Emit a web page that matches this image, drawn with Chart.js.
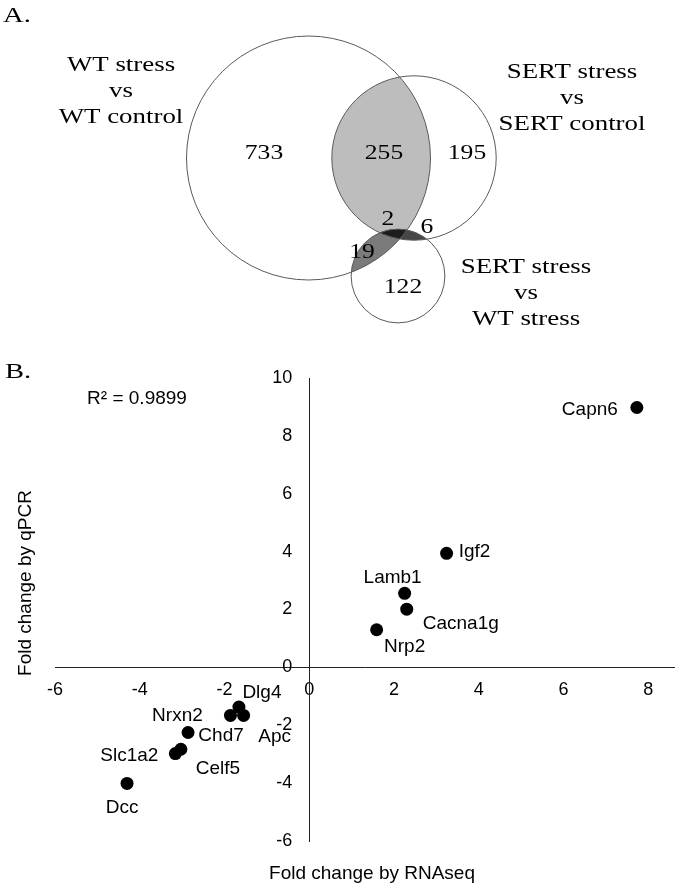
<!DOCTYPE html>
<html>
<head>
<meta charset="utf-8">
<script src="https://cdn.jsdelivr.net/npm/chart.js@4.4.1/dist/chart.umd.min.js"></script>
<style>
  html, body { margin: 0; padding: 0; background: #fff; }
  #wrap { position: relative; width: 675px; height: 888px; overflow: hidden; }
  canvas { position: absolute; left: 0; display: block; }
  #venn { top: 0; }
  #scatter { top: 360px; }
</style>
</head>
<body>
<div id="wrap">
  <canvas id="venn" width="675" height="360"></canvas>
  <canvas id="scatter" width="675" height="528"></canvas>
</div>
<script>
// ---------------- DATA ----------------
// Panel A: Venn diagram
const vennSetNames = [
  ['WT stress', 'vs', 'WT control'],
  ['SERT stress', 'vs', 'SERT control'],
  ['SERT stress', 'vs', 'WT stress']
];
// region order: WT only, SC only, SW only, WT∩SC, WT∩SW, SC∩SW, all three
const vennRegionKeys = ['0', '1', '2', '01', '02', '12', '012'];
const vennRegionCounts = [733, 195, 122, 255, 19, 6, 2];

// Panel B: scatter
const genes = ['Capn6', 'Igf2', 'Lamb1', 'Cacna1g', 'Nrp2', 'Dlg4', 'Nrxn2', 'Apc', 'Chd7', 'Celf5', 'Slc1a2', 'Dcc'];
const rnaseqFC = [7.73, 3.24, 2.25, 2.30, 1.59, -1.66, -1.86, -1.55, -2.86, -3.03, -3.16, -4.30];
const qpcrFC = [8.98, 3.94, 2.56, 2.01, 1.30, -1.37, -1.66, -1.66, -2.25, -2.83, -2.98, -4.01];
const xTickValues = [-6, -4, -2, 0, 2, 4, 6, 8];
const yTickValues = [-6, -4, -2, 0, 2, 4, 6, 8, 10];
const rSquaredText = 'R\u00B2 = 0.9899';
const xAxisTitle = 'Fold change by RNAseq';
const yAxisTitle = 'Fold change by qPCR';

// ---------------- LAYOUT / STYLE ----------------
const SERIF = '"Liberation Serif", "Times New Roman", serif';
const SANS = '"Liberation Sans", Arial, sans-serif';

// set totals derived from region counts
const setTotals = [0, 1, 2].map(s =>
  vennRegionKeys.reduce((acc, k, i) => acc + (k.includes(String(s)) ? vennRegionCounts[i] : 0), 0));
const vennLayout = {
  radiusPerSqrt: 122 / Math.sqrt(1009),
  centers: [{x: 308.5, y: 158}, {x: 414, y: 158}, {x: 398, y: 276}],
  setLabelPos: [{x: 121, y: 65}, {x: 572, y: 72}, {x: 526, y: 267}],
  lineGap: 26,
  regionLabelPos: {
    '0': {x: 264, y: 153}, '1': {x: 467, y: 153}, '2': {x: 403, y: 287},
    '01': {x: 384, y: 153}, '02': {x: 362, y: 252}, '12': {x: 427, y: 227}, '012': {x: 388, y: 219}
  },
  regionFill: [
    {sets: [0, 1], color: '#bdbdbd'},
    {sets: [0, 2], color: '#7b7b7b'},
    {sets: [1, 2], color: '#464646'},
    {sets: [0, 1, 2], color: '#1c1c1c'}
  ]
};
const labelOffsets = {
  Capn6: [-47, 2], Igf2: [28, -2], Lamb1: [-12, -16], Cacna1g: [54, 15], Nrp2: [28, 17],
  Dlg4: [23, -14], Nrxn2: [-53, 0], Apc: [31, 21], Chd7: [33, 3], Celf5: [37, 19],
  Slc1a2: [-46, 2], Dcc: [-5, 24]
};
// scatter geometry
const X_MIN = -6, X_MAX = 8.63;
const PAD = {left: 55, right: 0, top: 18, bottom: 47};
const PX_PER_X = (675 - PAD.left - PAD.right) / (X_MAX - X_MIN);
const Y_LABEL_GAP = 17; // px between y tick labels and the y axis line

function stretchedText(ctx, text, x, y, sx) {
  ctx.save();
  ctx.translate(x, y);
  ctx.scale(sx, 1);
  ctx.fillText(text, 0, 0);
  ctx.restore();
}

// ---------------- VENN (bubble chart) ----------------
const vennPlugin = {
  id: 'vennPlugin',
  beforeDatasetsDraw(chart) {
    const ctx = chart.ctx;
    const circles = chart.getDatasetMeta(0).data.map(e => ({x: e.x, y: e.y, r: e.options.radius}));
    vennLayout.regionFill.forEach(reg => {
      ctx.save();
      reg.sets.forEach(i => {
        ctx.beginPath();
        ctx.arc(circles[i].x, circles[i].y, circles[i].r, 0, Math.PI * 2);
        ctx.clip();
      });
      ctx.fillStyle = reg.color;
      ctx.fillRect(0, 0, chart.width, chart.height);
      ctx.restore();
    });
  },
  afterDatasetsDraw(chart) {
    const ctx = chart.ctx;
    const sx = chart.scales.x, sy = chart.scales.y;
    ctx.save();
    ctx.fillStyle = '#000';
    ctx.textAlign = 'left';
    ctx.textBaseline = 'alphabetic';
    ctx.font = '22px ' + SERIF;
    stretchedText(ctx, 'A.', 3, 22, 1.3);
    ctx.textAlign = 'center';
    ctx.textBaseline = 'middle';
    ctx.font = '21px ' + SERIF;
    vennSetNames.forEach((lines, i) => {
      const p = vennLayout.setLabelPos[i];
      lines.forEach((t, j) => {
        stretchedText(ctx, t, sx.getPixelForValue(p.x), sy.getPixelForValue(p.y + j * vennLayout.lineGap), 1.28);
      });
    });
    vennRegionKeys.forEach((k, i) => {
      const p = vennLayout.regionLabelPos[k];
      stretchedText(ctx, String(vennRegionCounts[i]), sx.getPixelForValue(p.x), sy.getPixelForValue(p.y), 1.22);
    });
    ctx.restore();
  }
};

new Chart(document.getElementById('venn'), {
  type: 'bubble',
  data: {
    datasets: [{
      data: vennLayout.centers.map((c, i) => ({x: c.x, y: c.y, r: vennLayout.radiusPerSqrt * Math.sqrt(setTotals[i])})),
      backgroundColor: 'rgba(0,0,0,0)',
      borderColor: '#5a5a5a',
      borderWidth: 1,
      hoverRadius: 0,
      clip: false
    }]
  },
  options: {
    responsive: false,
    animation: false,
    events: [],
    layout: {padding: 0, autoPadding: false},
    plugins: {legend: {display: false}, tooltip: {enabled: false}},
    scales: {
      x: {type: 'linear', display: false, min: 0, max: 675},
      y: {type: 'linear', display: false, min: 0, max: 360, reverse: true}
    }
  },
  plugins: [vennPlugin]
});

// ---------------- SCATTER ----------------
const scatterText = {
  id: 'scatterText',
  afterDatasetsDraw(chart) {
    const ctx = chart.ctx;
    const meta = chart.getDatasetMeta(0);
    ctx.save();
    ctx.fillStyle = '#000';
    ctx.textAlign = 'center';
    ctx.textBaseline = 'middle';
    ctx.font = '19px ' + SANS;
    meta.data.forEach((pt, i) => {
      const off = labelOffsets[genes[i]];
      ctx.fillText(genes[i], pt.x + off[0], pt.y + off[1]);
    });
    ctx.fillText(rSquaredText, 137, 39);
    ctx.fillText(xAxisTitle, 372, 514);
    ctx.save();
    ctx.translate(26, 223);
    ctx.rotate(-Math.PI / 2);
    ctx.fillText(yAxisTitle, 0, 0);
    ctx.restore();
    ctx.textAlign = 'left';
    ctx.textBaseline = 'alphabetic';
    ctx.font = '22px ' + SERIF;
    stretchedText(ctx, 'B.', 5, 18, 1.3);
    ctx.restore();
  }
};

const axisCommon = {
  type: 'linear',
  grid: {display: false, drawTicks: false}
};

new Chart(document.getElementById('scatter'), {
  type: 'scatter',
  data: {
    datasets: [{
      data: genes.map((g, i) => ({x: rnaseqFC[i], y: qpcrFC[i]})),
      pointRadius: 6.5,
      pointHoverRadius: 6.5,
      backgroundColor: '#000',
      borderWidth: 0
    }]
  },
  options: {
    responsive: false,
    animation: false,
    events: [],
    layout: {padding: PAD, autoPadding: false},
    plugins: {legend: {display: false}, tooltip: {enabled: false}},
    scales: {
      x: Object.assign({}, axisCommon, {
        position: {y: 0},
        min: X_MIN,
        max: X_MAX,
        afterBuildTicks: s => { s.ticks = xTickValues.map(v => ({value: v})); },
        afterFit: s => { s.height = 0; },
        border: {display: true, color: '#222', width: 1},
        ticks: {padding: 12, color: '#000', font: {family: SANS, size: 18}, maxRotation: 0, autoSkip: false}
      }),
      // y axis line (crosses at x = 0)
      y: Object.assign({}, axisCommon, {
        position: {x: 0},
        min: -6,
        max: 10,
        afterBuildTicks: s => { s.ticks = yTickValues.map(v => ({value: v})); },
        afterFit: s => { s.width = 0; },
        border: {display: true, color: '#222', width: 1},
        ticks: {display: false}
      }),
      // y tick labels, set slightly to the left of the y axis line
      yLabels: Object.assign({}, axisCommon, {
        axis: 'y',
        position: {x: -Y_LABEL_GAP / PX_PER_X},
        min: -6,
        max: 10,
        afterBuildTicks: s => { s.ticks = yTickValues.map(v => ({value: v})); },
        afterFit: s => { s.width = 0; },
        border: {display: false},
        ticks: {color: '#000', font: {family: SANS, size: 18}, autoSkip: false}
      })
    }
  },
  plugins: [scatterText]
});
</script>
</body>
</html>
